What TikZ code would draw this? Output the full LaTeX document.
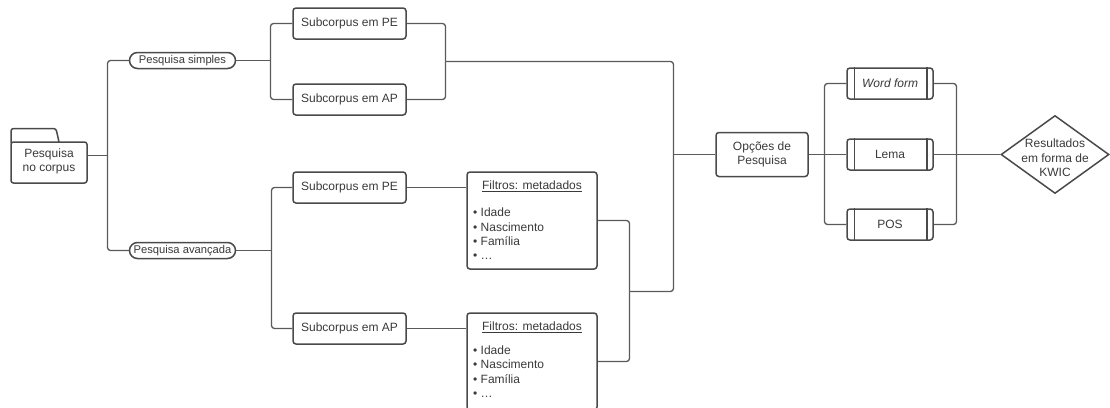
\documentclass[tikz,border=0pt]{standalone}
\usepackage{fontspec}
\setmainfont{Liberation Sans}
\usetikzlibrary{shapes.geometric}
\definecolor{lc}{HTML}{5A5A5A}
\definecolor{bc}{HTML}{4A4A4A}
\definecolor{tc}{HTML}{3A3A3A}
\begin{document}
\begin{tikzpicture}[x=1pt,y=-1pt,
  every node/.style={font=\fontsize{12}{14.5}\selectfont, text=tc},
  box/.style={draw=bc, line width=1.5pt, rounded corners=3pt, inner sep=0pt, align=center},
  sub/.style={box, minimum width=113pt, minimum height=31pt},
  opt/.style={box, minimum width=86pt, minimum height=31pt},
  filt/.style={box, minimum width=130pt, minimum height=97pt},
  pill/.style={draw=bc, line width=1.5pt, rounded corners=8pt, minimum width=106pt, minimum height=16pt, inner sep=0pt, font=\fontsize{11.2}{13}\selectfont},
  conn/.style={draw=lc, line width=1.3pt, rounded corners=3pt},
  txt/.style={inner sep=0pt, align=center},
  item/.style={inner sep=0pt, anchor=base west}]
\fill[white] (0,0) rectangle (1110,407);
\useasboundingbox (0,0) rectangle (1110,407);
\clip (0,0) rectangle (1110,407);

% folder
\node[minimum width=76pt, minimum height=55pt, inner sep=0pt] (folder) at (49,155.5) {};
\draw[bc, line width=1.5pt, rounded corners=2.5pt] (11,142) -- (11,183) -- (87,183) -- (87,142) -- cycle;
\draw[bc, line width=1.5pt, rounded corners=2.5pt] (11,143) -- (11,128.5) -- (56,128.5) -- (59,142);
\node[txt] (foldert) at (49,161.5) {Pesquisa\\no corpus};

% pills
\node[pill] (ps) at (182.5,60.5) {Pesquisa simples};
\node[pill] (pa) at (182.5,250.5) {Pesquisa avançada};

% subcorpus boxes
\node[sub] (sPE1) at (349.5,23.5) {Subcorpus em PE};
\node[sub] (sAP1) at (349.5,99.5) {Subcorpus em AP};
\node[sub] (sPE2) at (349.5,187.5) {Subcorpus em PE};
\node[sub] (sAP2) at (349.5,328.5) {Subcorpus em AP};

% filter boxes
\node[filt] (f1) at (532,220.5) {};
\node[txt] (f1t) at (532,186) {\underline{Filtros: metadados}};
\node[item] (f1a) at (473,216.6) {• Idade};
\node[item] (f1b) at (473,231) {• Nascimento};
\node[item] (f1c) at (473,245.4) {• Família};
\node[item] (f1d) at (473,259.8) {• …};
\node[filt] (f2) at (532,361.5) {};
\node[txt] (f2t) at (532,327.3) {\underline{Filtros: metadados}};
\node[item] (f2a) at (473,354.3) {• Idade};
\node[item] (f2b) at (473,368.6) {• Nascimento};
\node[item] (f2c) at (473,383) {• Família};
\node[item] (f2d) at (473,397.4) {• …};

% options
\node[box, minimum width=92pt, minimum height=44pt] (opc) at (762,154.5) {Opções de\\Pesquisa};
\node[opt] (wf) at (890,83.5) {\itshape Word form};
\node[opt] (lema) at (890,154.5) {Lema};
\node[opt] (pos) at (890,224.5) {POS};
\foreach \n in {wf,lema,pos}{
  \draw[bc, line width=1.5pt] ([xshift=8pt]\n.north west) -- ([xshift=8pt]\n.south west);
  \draw[bc, line width=1.5pt] ([xshift=-7pt]\n.north east) -- ([xshift=-7pt]\n.south east);
}

% diamond
\node[diamond, draw=bc, line width=1.5pt, minimum width=108pt, minimum height=78pt, inner sep=0pt] (kwic) at (1055,154.5) {};
\node[txt] (kwict) at (1055,158) {Resultados\\em forma de\\KWIC};

% junctions
\coordinate (j1) at (107.5,155.5);
\coordinate (j2) at (270.5,60.5);
\coordinate (j3) at (445.5,61.5);
\coordinate (c1) at (673.5,61.5);
\coordinate (c2) at (673.5,291.5);
\coordinate (j4) at (673.5,154.5);
\coordinate (j7) at (629.5,291.5);
\coordinate (j8) at (271.5,250.5);
\coordinate (j9) at (824.5,154.5);
\coordinate (j10) at (956.5,154.5);

% connectors
\draw[conn] (folder.east) -- (j1);
\draw[conn] (j1) |- (ps.west);
\draw[conn] (j1) |- (pa.west);
\draw[conn] (ps.east) -- (j2);
\draw[conn] (j2) |- (sPE1.west);
\draw[conn] (j2) |- (sAP1.west);
\draw[conn] (sPE1.east) -| (j3);
\draw[conn] (sAP1.east) -| (j3);
\draw[conn] (j3) -- (c1) -- (c2) -- (j7);
\draw[conn] (j4) -- (opc.west);
\draw[conn] (pa.east) -- (j8);
\draw[conn] (j8) |- (sPE2.west);
\draw[conn] (j8) |- (sAP2.west);
\draw[conn] (sPE2.east) -- (sPE2.east -| f1.west);
\draw[conn] (sAP2.east) -- (sAP2.east -| f2.west);
\draw[conn] (f1.east) -| (j7);
\draw[conn] (f2.east) -| (j7);
\draw[conn] (opc.east) -- (j9);
\draw[conn] (j9) |- (wf.west);
\draw[conn] (j9) |- (pos.west);
\draw[conn] (j9) -- (lema.west);
\draw[conn] (wf.east) -| (j10);
\draw[conn] (pos.east) -| (j10);
\draw[conn] (lema.east) -- (kwic.west);
\end{tikzpicture}
\end{document}
